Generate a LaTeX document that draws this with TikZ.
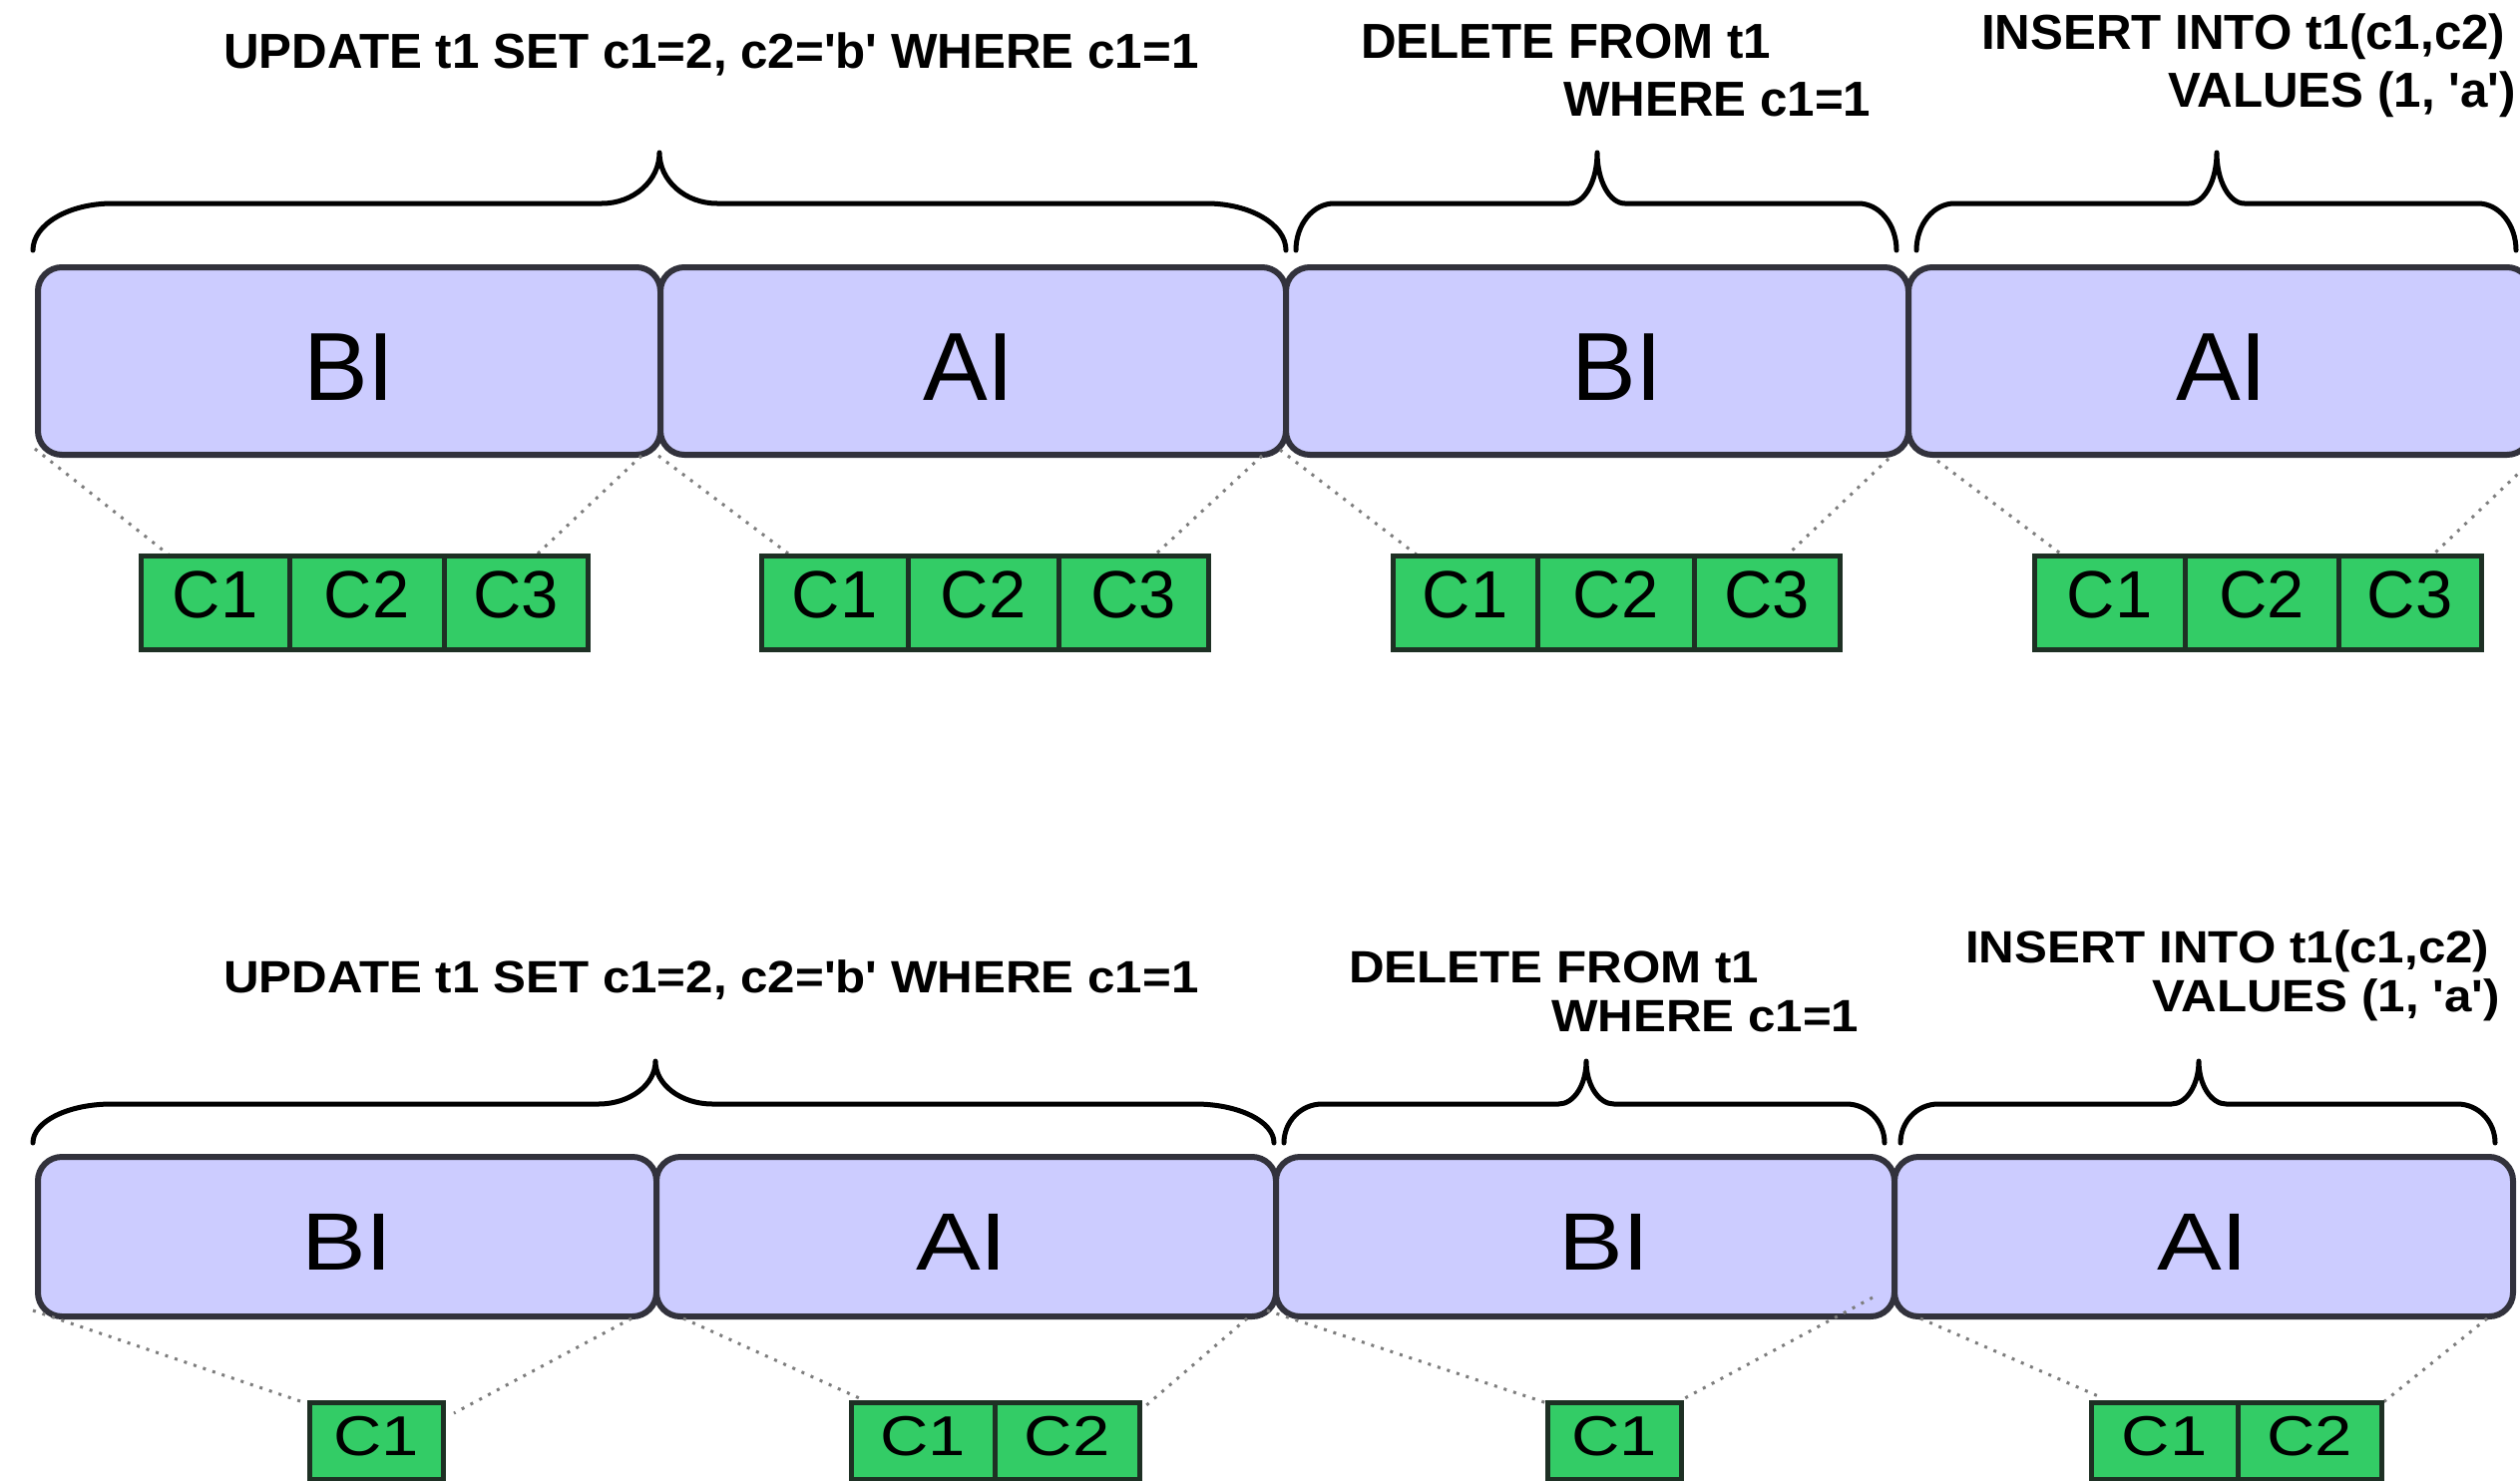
\documentclass[tikz,border=0pt]{standalone}
\usepackage{fontspec}
\setmainfont{Liberation Sans}
\usepackage{graphicx}

\definecolor{imgfill}{RGB}{204,204,255}
\definecolor{imgline}{RGB}{50,50,60}
\definecolor{colfill}{RGB}{51,204,102}
\definecolor{colline}{RGB}{30,48,36}
\definecolor{zoomgray}{RGB}{125,125,125}

% curly brace: left x, tip x, right x, end y, bar y, tip y (y grows downward)
\newcommand\sqlbrace[6]{%
  \pgfmathsetmacro\brW{#3-#1}%
  \pgfmathsetmacro\brA{0.0635*\brW}%
  \pgfmathsetmacro\brT{0.046*\brW}%
  \pgfmathsetmacro\brE{#4-#5}%
  \pgfmathsetmacro\brH{#5-#6}%
  \draw[bracestyle]
    (#1,#4) .. controls (#1,{#4-0.552*\brE}) and ({#1+0.448*\brA},#5) .. ({#1+\brA},#5)
    -- ({#2-\brT},#5) .. controls ({#2-0.448*\brT},#5) and (#2,{#6+0.552*\brH}) .. (#2,#6)
    .. controls (#2,{#6+0.552*\brH}) and ({#2+0.448*\brT},#5) .. ({#2+\brT},#5)
    -- ({#3-\brA},#5) .. controls ({#3-0.448*\brA},#5) and (#3,{#4-0.552*\brE}) .. (#3,#4);
}

% row image box: name, left, right, top, bottom
\newcommand\imgbox[5]{%
  \pgfmathsetmacro\bxc{(#2+#3)/2}\pgfmathsetmacro\bxw{#3-#2}%
  \pgfmathsetmacro\byc{(#4+#5)/2}\pgfmathsetmacro\byh{#5-#4}%
  \node[imgboxstyle, minimum width=\bxw pt, minimum height=\byh pt] (#1) at (\bxc,\byc) {};
}

% column cell: name, left, right, centre y, style, text
\newcommand\colcell[6]{%
  \pgfmathsetmacro\ccx{(#2+#3)/2}\pgfmathsetmacro\ccw{#3-#2}%
  \node[#5, minimum width=\ccw pt] (#1) at (\ccx,#4) {#6};
}

\newcommand\sq{\textquotesingle}

\begin{document}
\begin{tikzpicture}[x=1pt,y=-1pt,
  bracestyle/.style={draw=black, line width=5pt, line join=round, line cap=round},
  imgboxstyle/.style={draw=imgline, fill=imgfill, line width=6pt, rounded corners=24pt, inner sep=0pt},
  zoomline/.style={draw=zoomgray, line width=3pt, dash pattern=on 3pt off 7pt},
  topcell/.style={draw=colline, fill=colfill, line width=5pt, inner sep=0pt,
    minimum height=94pt, text height=46pt, text depth=15pt,
    font=\fontsize{67}{80}\selectfont},
  lowcell/.style={draw=colline, fill=colfill, line width=5pt, inner sep=0pt,
    minimum height=77pt, text height=39pt, text depth=9pt,
    font=\fontsize{67}{80}\selectfont},
  sqllabel/.style={inner sep=0pt, anchor=base west, font=\bfseries\fontsize{49.3}{59}\selectfont},
  biglabel/.style={inner sep=0pt, anchor=base, font=\fontsize{97}{116}\selectfont}
]
\useasboundingbox[fill=white] (0,0) rectangle (2526,1485);

%% ---------------- upper row: full column images ----------------
\sqlbrace{33}{661}{1289}{251}{204}{153}
\sqlbrace{1299}{1601}{1901}{251}{204}{153}
\sqlbrace{1921}{2222}{2522}{251}{204}{153}

\imgbox{ubi1}{38}{662}{268}{456}
\imgbox{uai1}{662}{1289}{268}{456}
\imgbox{ubi2}{1289}{1913}{268}{456}
\imgbox{uai2}{1913}{2537}{268}{456}

\node[biglabel] (ubt1) at (350,401) {BI};
\node[biglabel] (uat1) at (971,401) {AI};
\node[biglabel] (ubt2) at (1621,401) {BI};
\node[biglabel] (uat2) at (2227,401) {AI};

\coordinate (ua1) at (35,450);   \coordinate (ub1) at (170,557);
\coordinate (ua2) at (643,457);  \coordinate (ub2) at (537,557);
\coordinate (ua3) at (660,457);  \coordinate (ub3) at (790,555);
\coordinate (ua4) at (1265,457); \coordinate (ub4) at (1157,557);
\coordinate (ua5) at (1283,451); \coordinate (ub5) at (1421,557);
\coordinate (ua6) at (1893,460); \coordinate (ub6) at (1791,557);
\coordinate (ua7) at (1942,462); \coordinate (ub7) at (2068,557);
\coordinate (ua8) at (2545,455); \coordinate (ub8) at (2438,557);
\foreach \k in {1,...,8} { \draw[zoomline] (ua\k) -- (ub\k); }

\colcell{u1c1}{141}{290}{604}{topcell}{C1}
\colcell{u1c2}{290}{445}{604}{topcell}{C2}
\colcell{u1c3}{445}{589}{604}{topcell}{C3}
\colcell{u2c1}{763}{910}{604}{topcell}{C1}
\colcell{u2c2}{910}{1061}{604}{topcell}{C2}
\colcell{u2c3}{1061}{1211}{604}{topcell}{C3}
\colcell{u3c1}{1396}{1541}{604}{topcell}{C1}
\colcell{u3c2}{1541}{1698}{604}{topcell}{C2}
\colcell{u3c3}{1698}{1844}{604}{topcell}{C3}
\colcell{u4c1}{2039}{2190}{604}{topcell}{C1}
\colcell{u4c2}{2190}{2344}{604}{topcell}{C2}
\colcell{u4c3}{2344}{2487}{604}{topcell}{C3}

\node[sqllabel] (uupd) at (224,69) {UPDATE t1 SET c1=2, c2=\sq b\sq{} WHERE c1=1};
\node[sqllabel] (udel1) at (1364,59) {DELETE FROM t1};
\node[sqllabel] (udel2) at (1567,117) {WHERE c1=1};
\node[sqllabel] (uins1) at (1986,50) {INSERT INTO t1(c1,c2)};
\node[sqllabel] (uins2) at (2173,108) {VALUES (1, \sq a\sq)};

%% ---------------- lower row: minimal column images ----------------
\sqlbrace{33}{657}{1277}{1146}{1107}{1064}
\sqlbrace{1287}{1590}{1889}{1146}{1107}{1064}
\sqlbrace{1905}{2204}{2501}{1146}{1107}{1064}

\imgbox{lbi1}{38}{658}{1160}{1320}
\imgbox{lai1}{658}{1279}{1160}{1320}
\imgbox{lbi2}{1279}{1899}{1160}{1320}
\imgbox{lai2}{1899}{2519}{1160}{1320}

\node[biglabel] (lbt1) at (348,1273) {\scalebox{1}[0.84]{BI}};
\node[biglabel] (lat1) at (964,1273) {\scalebox{1}[0.84]{AI}};
\node[biglabel] (lbt2) at (1608,1273) {\scalebox{1}[0.84]{BI}};
\node[biglabel] (lat2) at (2208,1273) {\scalebox{1}[0.84]{AI}};

\coordinate (la1) at (33,1314);   \coordinate (lb1) at (307,1407);
\coordinate (la2) at (633,1322);  \coordinate (lb2) at (455,1417);
\coordinate (la3) at (685,1322);  \coordinate (lb3) at (866,1404);
\coordinate (la4) at (1250,1322); \coordinate (lb4) at (1148,1410);
\coordinate (la5) at (1270,1314); \coordinate (lb5) at (1551,1407);
\coordinate (la6) at (1877,1301); \coordinate (lb6) at (1685,1404);
\coordinate (la7) at (1925,1322); \coordinate (lb7) at (2108,1402);
\coordinate (la8) at (2493,1322); \coordinate (lb8) at (2389,1406);
\foreach \k in {1,...,8} { \draw[zoomline] (la\k) -- (lb\k); }

\colcell{l1c1}{310}{444}{1444.5}{lowcell}{\scalebox{1}[0.84]{C1}}
\colcell{l2c1}{853}{997}{1444.5}{lowcell}{\scalebox{1}[0.84]{C1}}
\colcell{l2c2}{997}{1142}{1444.5}{lowcell}{\scalebox{1}[0.84]{C2}}
\colcell{l3c1}{1551}{1685}{1444.5}{lowcell}{\scalebox{1}[0.84]{C1}}
\colcell{l4c1}{2096}{2243}{1444.5}{lowcell}{\scalebox{1}[0.84]{C1}}
\colcell{l4c2}{2243}{2387}{1444.5}{lowcell}{\scalebox{1}[0.84]{C2}}

\node[sqllabel] (lupd) at (224,995) {\scalebox{1}[0.92]{UPDATE t1 SET c1=2, c2=\sq b\sq{} WHERE c1=1}};
\node[sqllabel] (ldel1) at (1352,985) {\scalebox{1}[0.92]{DELETE FROM t1}};
\node[sqllabel] (ldel2) at (1555,1034) {\scalebox{1}[0.92]{WHERE c1=1}};
\node[sqllabel] (lins1) at (1970,965) {\scalebox{1}[0.92]{INSERT INTO t1(c1,c2)}};
\node[sqllabel] (lins2) at (2157,1014) {\scalebox{1}[0.92]{VALUES (1, \sq a\sq)}};
\end{tikzpicture}
\end{document}
